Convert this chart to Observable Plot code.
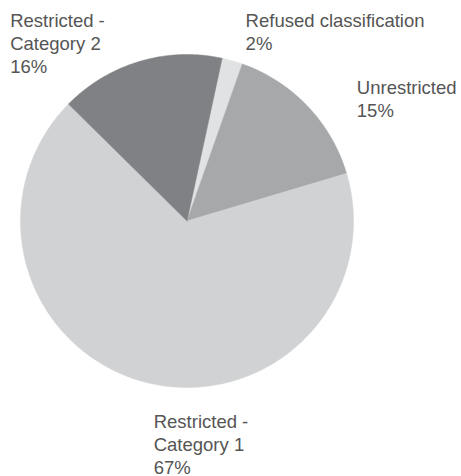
<!DOCTYPE html>
<html>
<head>
<meta charset="utf-8">
<script src="https://cdn.jsdelivr.net/npm/d3@7"></script>
<script src="https://cdn.jsdelivr.net/npm/@observablehq/plot@0.6"></script>
<style>
  html, body { margin: 0; padding: 0; background: #fff; }
</style>
</head>
<body>
<div id="chart"></div>
<script>
// Data (clockwise order starting just right of 12 o'clock)
const categories = ["Refused classification", "Unrestricted", "Restricted -\nCategory 1", "Restricted -\nCategory 2"];
const shares = [2, 15, 67, 16];
const colors = ["#e1e2e3", "#a7a8aa", "#d1d2d4", "#808184"];

// Layout: label anchor (top of first line) in pie-radius units
const labelX = [0.352, 1.02, -0.2, -1.062];
const labelY = [1.262, 0.858, -1.146, 1.262];
const startDeg = 12.2;

const pie = d3.pie().sort(null).value(d => d.share)
  .startAngle(startDeg * Math.PI / 180)
  .endAngle((startDeg + 360) * Math.PI / 180);

const rows = categories.map((c, i) => ({name: c, share: shares[i], color: colors[i], lx: labelX[i], ly: labelY[i]}));
const arcs = pie(rows);

// Geometry of each wedge as a closed outline (center + arc samples)
function wedge(a) {
  const pts = [{x: 0, y: 0}];
  const n = Math.max(2, Math.ceil((a.endAngle - a.startAngle) / (Math.PI / 360)));
  for (let k = 0; k <= n; k++) {
    const t = a.startAngle + (a.endAngle - a.startAngle) * k / n;
    pts.push({x: Math.sin(t), y: Math.cos(t)});
  }
  pts.push({x: 0, y: 0});
  return pts;
}

const marks = arcs.map(a => Plot.line(wedge(a), {x: "x", y: "y", fill: a.data.color, stroke: a.data.color, strokeWidth: 0.5}));

marks.push(Plot.text(rows, {
  x: "lx", y: "ly",
  text: d => d.name + "\n" + d.share + "%",
  textAnchor: "start",
  lineAnchor: "top",
  lineHeight: 1.24,
  fontSize: 18.5,
  fill: "#555555"
}));

const chart = Plot.plot({
  width: 461,
  height: 476,
  margin: 0,
  x: {domain: [-1, 1], range: [20, 353], axis: null},
  y: {domain: [-1, 1], range: [387, 54], axis: null},
  style: {fontFamily: "'Liberation Sans', Arial, sans-serif", background: "#fff"},
  marks
});
document.getElementById("chart").appendChild(chart);
</script>
</body>
</html>
